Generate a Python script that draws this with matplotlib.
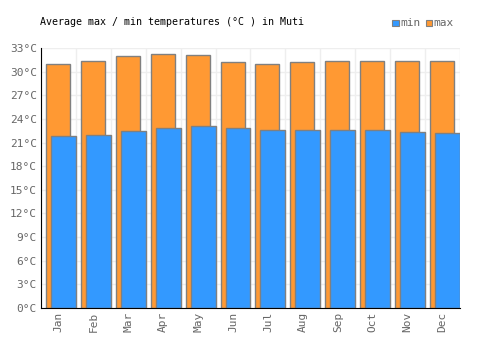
import numpy as np
import matplotlib
matplotlib.use("Agg")
import matplotlib.pyplot as plt
from matplotlib.patches import Rectangle

months = ["Jan", "Feb", "Mar", "Apr", "May", "Jun", "Jul", "Aug", "Sep", "Oct", "Nov", "Dec"]
tmax = [31.0, 31.3, 32.0, 32.2, 32.1, 31.2, 31.0, 31.2, 31.4, 31.4, 31.4, 31.3]
tmin = [21.8, 22.0, 22.5, 22.8, 23.1, 22.9, 22.6, 22.6, 22.6, 22.6, 22.3, 22.2]
yticks = list(range(0, 34, 3))

blue = "#3399ff"
orange = "#ff9933"
edge = "#808080"
grey = "#666666"

plt.rcParams["font.family"] = ["DejaVu Sans Mono"]

fig = plt.figure(figsize=(5, 3.5), dpi=100)
ax = fig.add_axes([0.082, 0.12, 0.838, 0.743])

x = np.arange(len(months))
ax.bar(x - 0.357, tmax, width=0.686, align="edge", color=orange, edgecolor=edge, linewidth=1, zorder=2)
ax.bar(x - 0.214, tmin, width=0.714, align="edge", color=blue, edgecolor=edge, linewidth=1, zorder=3)

ax.set_xlim(-0.5, 11.5)
ax.set_ylim(0, 33)
ax.set_yticks(yticks)
ax.set_yticklabels([f"{t}°C" for t in yticks], color=grey, fontsize=8)
ax.set_xticks(x)
ax.set_xticklabels(months, rotation=90, color=grey, fontsize=8)
ax.tick_params(length=0, pad=3)

# light grid: category boundaries and every 3 degrees
for b in np.arange(-0.5, 12, 1):
    ax.axvline(b, color="#eeeeee", linewidth=1, zorder=0)
for t in yticks:
    ax.axhline(t, color="#eeeeee", linewidth=1, zorder=0)

for s in ["top", "right"]:
    ax.spines[s].set_visible(False)
ax.spines["left"].set_color("black")
ax.spines["bottom"].set_color("black")
ax.spines["left"].set_zorder(5)
ax.spines["bottom"].set_zorder(5)

fig.text(0.08, 0.937, "Average max / min temperatures (°C ) in Muti", fontsize=7.2,
         color="black", va="center")

fig.patches.append(Rectangle((0.784, 0.925), 0.013, 0.018, transform=fig.transFigure,
                             facecolor=blue, edgecolor=edge, linewidth=0.8))
fig.text(0.80, 0.935, "min", fontsize=8, color=grey, va="center")
fig.patches.append(Rectangle((0.851, 0.925), 0.013, 0.018, transform=fig.transFigure,
                             facecolor=orange, edgecolor=edge, linewidth=0.8))
fig.text(0.866, 0.935, "max", fontsize=8, color=grey, va="center")

fig.savefig("out.png", dpi=100)
